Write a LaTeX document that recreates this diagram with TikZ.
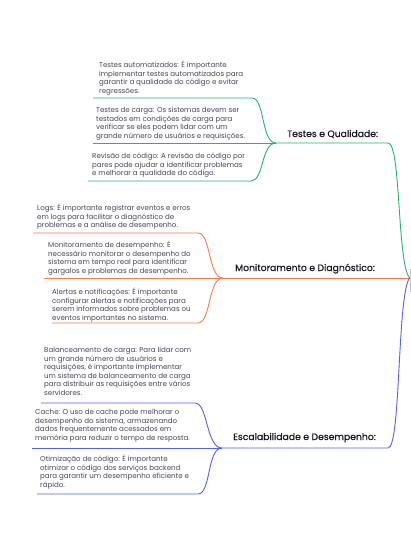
\documentclass[tikz,border=0pt]{standalone}
\usepackage{fontspec}
\setmainfont{Poppins}
\newfontfamily\ttlfont[FakeBold=0.35]{Poppins}
\definecolor{cgreen}{RGB}{38,178,112}
\definecolor{corange}{RGB}{250,122,72}
\definecolor{cblue}{RGB}{86,96,232}
\definecolor{ctext}{RGB}{70,70,88}
\definecolor{ctitle}{RGB}{20,20,35}
\begin{document}
\begin{tikzpicture}[x=1bp,y=-1bp,
  leaf/.style={anchor=north west,inner sep=0pt,align=left,text=ctext,font=\fontsize{7.1}{8.6}\selectfont},
  ttl/.style={anchor=base west,inner sep=0pt,text=ctitle,font=\ttlfont\fontsize{9.3}{10}\selectfont},
  gline/.style={draw=cgreen,line width=0.9bp},
  oline/.style={draw=corange,line width=0.9bp},
  bline/.style={draw=cblue,line width=0.9bp}]
\useasboundingbox (0,0) rectangle (410,540);
% root (mostly outside)
\node[draw=gray!45,line width=1bp,minimum width=40bp,minimum height=22bp,anchor=west,inner sep=0pt] (root) at (409.5,280) {};
\coordinate (r) at (409.5,278);
% ---------- green ----------
\coordinate (gj) at (276,143);
\node[leaf] (g1) at (99,61) {Testes automatizados: É importante\\implementar testes automatizados para\\garantir a qualidade do código e evitar\\regressões.};
\node[leaf] (g2) at (96,107) {Testes de carga: Os sistemas devem ser\\testados em condições de carga para\\verificar se eles podem lidar com um\\grande número de usuários e requisições.};
\node[leaf] (g3) at (92,153) {Revisão de código: A revisão de código por\\pares pode ajudar a identificar problemas\\e melhorar a qualidade do código.};
\node[ttl] (gt) at (287,137) {Testes e Qualidade:};
\coordinate (g1a) at (93,98); \coordinate (g1b) at (252,98);
\coordinate (g2a) at (93,143);
\coordinate (g3a) at (88,181); \coordinate (g3b) at (251,181);
\coordinate (gm) at (388,143);
\draw[gline] (g1a) -- (g1b) .. controls (265,98) and (261,143) .. (gj);
\draw[gline] (g2a) -- (gj);
\draw[gline] (g3a) -- (g3b) .. controls (264,181) and (261,143) .. (gj);
\draw[gline] (gj) -- (gm) .. controls (401,143) and (397,262) .. (r);
% ---------- orange ----------
\coordinate (oj) at (223,278);
\node[leaf] (o1) at (37,204) {Logs: É importante registrar eventos e erros\\em logs para facilitar o diagnóstico de\\problemas e a análise de desempenho.};
\node[leaf] (o2) at (48,241) {Monitoramento de desempenho: É\\necessário monitorar o desempenho do\\sistema em tempo real para identificar\\gargalos e problemas de desempenho.};
\node[leaf] (o3) at (52,288) {Alertas e notificações: É importante\\configurar alertas e notificações para\\serem informados sobre problemas ou\\eventos importantes no sistema.};
\node[ttl] (ot) at (235,271) {Monitoramento e Diagnóstico:};
\coordinate (o1a) at (33,233); \coordinate (o1b) at (198,233);
\coordinate (o2a) at (44,278);
\coordinate (o3a) at (52,323); \coordinate (o3b) at (198,323);
\draw[oline] (o1a) -- (o1b) .. controls (211,233) and (208,278) .. (oj);
\draw[oline] (o2a) -- (oj);
\draw[oline] (o3a) -- (o3b) .. controls (211,323) and (208,278) .. (oj);
\draw[oline] (oj) -- (r);
% ---------- blue ----------
\coordinate (bj) at (222,448);
\node[leaf] (b1) at (44,347) {Balanceamento de carga: Para lidar com\\um grande número de usuários e\\requisições, é importante implementar\\um sistema de balanceamento de carga\\para distribuir as requisições entre vários\\servidores.};
\node[leaf] (b2) at (35,409) {Cache: O uso de cache pode melhorar o\\desempenho do sistema, armazenando\\dados frequentemente acessados em\\memória para reduzir o tempo de resposta.};
\node[leaf] (b3) at (40,455) {Otimização de código: É importante\\otimizar o código dos serviços backend\\para garantir um desempenho eficiente e\\rápido.};
\node[ttl] (bt) at (233,440) {Escalabilidade e Desempenho:};
\coordinate (b1a) at (41,403); \coordinate (b1b) at (195,403);
\coordinate (b2a) at (32,448);
\coordinate (b3a) at (37,494); \coordinate (b3b) at (198,494);
\coordinate (bm) at (388,448);
\draw[bline] (b1a) -- (b1b) .. controls (208,403) and (206,448) .. (bj);
\draw[bline] (b2a) -- (bj);
\draw[bline] (b3a) -- (b3b) .. controls (211,494) and (207,448) .. (bj);
\draw[bline] (bj) -- (bm) .. controls (401,448) and (397,296) .. (r);
\end{tikzpicture}
\end{document}
